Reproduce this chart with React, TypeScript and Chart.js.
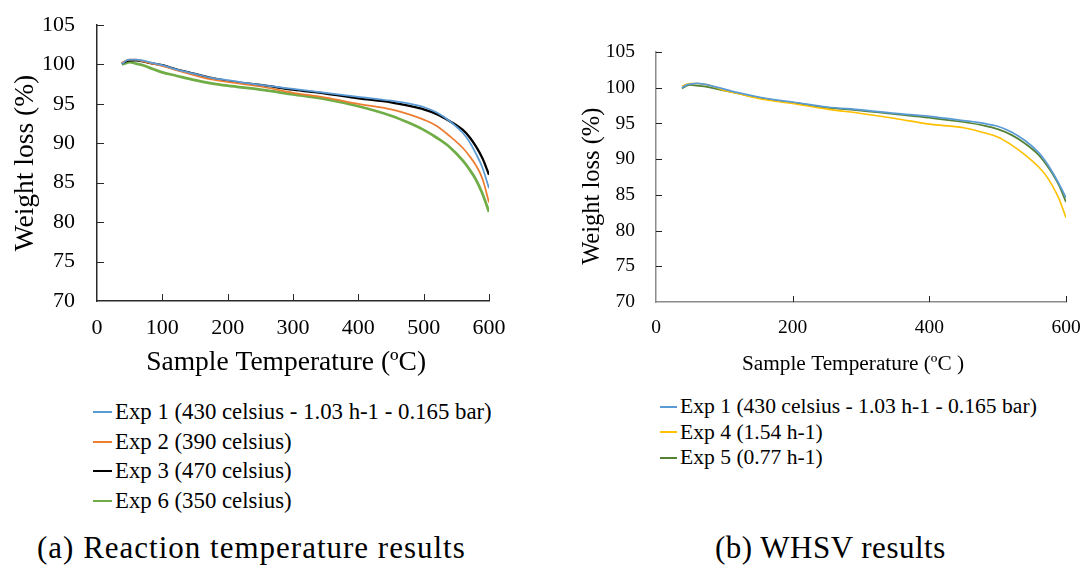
import React, { useEffect, useRef } from "react";
import { Chart, registerables } from "chart.js";

Chart.register(...registerables);

const SERIF = "Liberation Serif";

// Sample temperatures (ºC) shared by all curves
const temps = [38, 45, 50, 60, 70, 80, 100, 120, 150, 175, 200, 250, 300, 350, 400, 450, 480, 500, 520, 540, 560, 570, 580, 590, 600];

// (a) Reaction temperature results
const exp1A = [100.0, 100.5, 100.6, 100.6, 100.5, 100.3, 99.9, 99.4, 98.8, 98.3, 98.0, 97.4, 96.9, 96.4, 95.9, 95.4, 95.0, 94.6, 93.9, 92.8, 91.3, 90.2, 88.7, 86.9, 84.3];
const exp2A = [100.2, 100.5, 100.6, 100.6, 100.4, 100.2, 99.8, 99.3, 98.6, 98.1, 97.8, 97.2, 96.4, 95.8, 95.0, 94.3, 93.6, 93.0, 92.2, 90.9, 89.4, 88.4, 87.2, 85.5, 82.5];
const exp3A = [100.1, 100.4, 100.5, 100.5, 100.4, 100.2, 99.9, 99.4, 98.8, 98.3, 97.9, 97.4, 96.8, 96.3, 95.7, 95.2, 94.7, 94.3, 93.7, 92.8, 91.7, 90.8, 89.6, 88.1, 86.0];
const exp6A = [100.0, 100.2, 100.3, 100.1, 99.9, 99.6, 99.0, 98.6, 98.0, 97.6, 97.3, 96.8, 96.2, 95.6, 94.7, 93.5, 92.5, 91.7, 90.7, 89.5, 87.8, 86.7, 85.4, 83.6, 81.3];

// (b) WHSV results
const exp1B = [100.0, 100.4, 100.5, 100.6, 100.5, 100.3, 99.8, 99.3, 98.7, 98.3, 98.0, 97.3, 96.9, 96.4, 96.0, 95.4, 95.0, 94.6, 93.8, 92.6, 90.9, 89.7, 88.2, 86.5, 84.6];
const exp4B = [100.2, 100.5, 100.6, 100.6, 100.5, 100.3, 99.6, 99.2, 98.5, 98.1, 97.8, 97.0, 96.4, 95.7, 94.9, 94.4, 93.7, 93.1, 92.0, 90.6, 88.9, 87.8, 86.3, 84.4, 81.8];
const exp5B = [99.9, 100.3, 100.4, 100.3, 100.2, 100.0, 99.6, 99.2, 98.6, 98.2, 97.9, 97.2, 96.8, 96.3, 95.8, 95.2, 94.7, 94.2, 93.4, 92.2, 90.6, 89.4, 88.0, 86.3, 84.0];

const labelsA = ["Exp 1 (430 celsius - 1.03 h-1 - 0.165 bar)", "Exp 2 (390 celsius)", "Exp 3 (470 celsius)", "Exp 6 (350 celsius)"];
const colorsA = ["#5B9BD5", "#ED7D31", "#000000", "#70AD47"];
const widthsA = [1.75, 1.75, 2.25, 2.75];
const labelsB = ["Exp 1 (430 celsius - 1.03 h-1 - 0.165 bar)", "Exp 4 (1.54 h-1)", "Exp 5 (0.77 h-1)"];
const colorsB = ["#5B9BD5", "#FFC000", "#548235"];
const widthsB = [1.75, 1.6, 1.75];

const yTicksVals = [70, 75, 80, 85, 90, 95, 100, 105];

const toPts = (ys: number[]) => temps.map((t, i) => ({ x: t, y: ys[i] }));

const insideTicks = {
  id: "insideTicks",
  afterDatasetsDraw(chart: any, _args: any, opts: any) {
    const { ctx, chartArea } = chart;
    const xs = chart.scales.x;
    const ys = chart.scales.y;
    ctx.save();
    ctx.strokeStyle = opts.color || "#000";
    ctx.lineWidth = 1;
    const len = opts.len || 7;
    xs.ticks.forEach((t: any) => {
      if (t.value === xs.min) return;
      const px = Math.round(xs.getPixelForValue(t.value)) + 0.5;
      ctx.beginPath();
      ctx.moveTo(px, chartArea.bottom);
      ctx.lineTo(px, chartArea.bottom - len);
      ctx.stroke();
    });
    ys.ticks.forEach((t: any) => {
      if (t.value === ys.min) return;
      const py = Math.round(ys.getPixelForValue(t.value)) + 0.5;
      ctx.beginPath();
      ctx.moveTo(chartArea.left, py);
      ctx.lineTo(chartArea.left + len, py);
      ctx.stroke();
    });
    ctx.restore();
  },
};

type Cfg = {
  series: number[][];
  labels: string[];
  colors: string[];
  widths: number[];
  xStep: number;
  tickFont: number;
  yTitleFont: number;
  xTitleFont: number;
  xTitle: string;
  yTitle: string;
  yWidth: number;
  xHeight: number;
  padTop: number;
  padRight: number;
  yTitlePad: number;
  xTitlePadBottom: number;
  xTickPad: number;
  yTickPad: number;
  axisColor: string;
  tickColor: string;
  tickLen: number;
};

function TGAChart({ cfg, width, height }: { cfg: Cfg; width: number; height: number }) {
  const ref = useRef<HTMLCanvasElement | null>(null);
  useEffect(() => {
    if (!ref.current) return;
    const chart = new Chart(ref.current, {
      type: "line",
      data: {
        datasets: cfg.series.map((s, i) => ({
          label: cfg.labels[i],
          data: toPts(s),
          borderColor: cfg.colors[i],
          backgroundColor: cfg.colors[i],
          borderWidth: cfg.widths[i],
          pointRadius: 0,
          cubicInterpolationMode: "monotone" as const,
          fill: false,
        })),
      },
      options: {
        animation: false,
        responsive: false,
        maintainAspectRatio: false,
        layout: { padding: { top: cfg.padTop, right: cfg.padRight, left: 0, bottom: 0 } },
        plugins: {
          legend: { display: false },
          tooltip: { enabled: false },
          insideTicks: { color: cfg.tickColor, len: cfg.tickLen },
        } as any,
        scales: {
          x: {
            type: "linear",
            min: 0,
            max: 600,
            ticks: {
              stepSize: cfg.xStep,
              color: "#000",
              font: { family: SERIF, size: cfg.tickFont },
              padding: cfg.xTickPad,
              maxRotation: 0,
            },
            grid: { display: false, drawTicks: false },
            border: { display: true, color: cfg.axisColor, width: 1.5 },
            title: {
              display: true,
              text: cfg.xTitle,
              color: "#000",
              font: { family: SERIF, size: cfg.xTitleFont },
              padding: { top: 0, bottom: cfg.xTitlePadBottom },
            },
            afterFit: (s: any) => {
              s.height = cfg.xHeight;
              s.paddingLeft = 0;
              s.paddingRight = 0;
              s.paddingTop = 0;
              s.paddingBottom = 0;
            },
          },
          y: {
            min: 70,
            max: 105,
            afterBuildTicks: (s: any) => {
              s.ticks = yTicksVals.map((v) => ({ value: v }));
            },
            ticks: {
              color: "#000",
              font: { family: SERIF, size: cfg.tickFont },
              padding: cfg.yTickPad,
            },
            grid: { display: false, drawTicks: false },
            border: { display: true, color: cfg.axisColor, width: 1.5 },
            title: {
              display: true,
              text: cfg.yTitle,
              color: "#000",
              font: { family: SERIF, size: cfg.yTitleFont },
              padding: { top: cfg.yTitlePad, bottom: 0 },
            },
            afterFit: (s: any) => {
              s.width = cfg.yWidth;
              s.paddingLeft = 0;
              s.paddingRight = 0;
              s.paddingTop = 0;
              s.paddingBottom = 0;
            },
          },
        },
      },
      plugins: [insideTicks],
    });
    return () => chart.destroy();
  }, [cfg]);
  return <canvas ref={ref} width={width} height={height} style={{ width, height, display: "block" }} />;
}

const cfgA: Cfg = {
  series: [exp1A, exp2A, exp3A, exp6A],
  labels: labelsA,
  colors: colorsA,
  widths: widthsA,
  xStep: 100,
  tickFont: 22,
  yTitleFont: 27.5,
  xTitleFont: 27.5,
  xTitle: "Sample Temperature (ºC)  ",
  yTitle: "Weight loss (%)",
  yWidth: 97,
  xHeight: 89,
  padTop: 25,
  padRight: 41,
  yTitlePad: 9,
  xTitlePadBottom: 11,
  xTickPad: 14,
  yTickPad: 22,
  axisColor: "#2a2a2a",
  tickColor: "#2a2a2a",
  tickLen: 7,
};

const cfgB: Cfg = {
  series: [exp1B, exp4B, exp5B],
  labels: labelsB,
  colors: colorsB,
  widths: widthsB,
  xStep: 200,
  tickFont: 19.5,
  yTitleFont: 24.5,
  xTitleFont: 21.3,
  xTitle: "Sample Temperature (ºC )   ",
  yTitle: "Weight loss (%)   ",
  yWidth: 96,
  xHeight: 88,
  padTop: 52,
  padRight: 18,
  yTitlePad: 18,
  xTitlePadBottom: 13,
  xTickPad: 14,
  yTickPad: 21,
  axisColor: "#8c8c8c",
  tickColor: "#222222",
  tickLen: 6,
};

function Legend({ labels, colors, left, top, rowH, font, lineW }: any) {
  return (
    <div style={{ position: "absolute", left, top, fontFamily: SERIF, fontSize: font, color: "#000" }}>
      {labels.map((l: string, i: number) => (
        <div key={i} style={{ height: rowH, display: "flex", alignItems: "center", whiteSpace: "nowrap" }}>
          <span style={{ display: "inline-block", width: lineW, height: 2, background: colors[i], marginRight: 3 }} />
          <span>{l}</span>
        </div>
      ))}
    </div>
  );
}

export default function App() {
  useEffect(() => {
    document.body.style.margin = "0";
  }, []);
  return (
    <div style={{ position: "relative", width: 1084, height: 567, background: "#fff", overflow: "hidden", fontFamily: SERIF }}>
      <div style={{ position: "absolute", left: 0, top: 0 }}>
        <TGAChart cfg={cfgA} width={530} height={390} />
      </div>
      <div style={{ position: "absolute", left: 560, top: 0 }}>
        <TGAChart cfg={cfgB} width={524} height={390} />
      </div>
      <Legend labels={labelsA} colors={colorsA} left={93} top={397} rowH={29.7} font={22.8} lineW={19} />
      <Legend labels={labelsB} colors={colorsB} left={660} top={394} rowH={25.5} font={21.6} lineW={17} />
      <div style={{ position: "absolute", left: 37, top: 529, fontFamily: SERIF, fontSize: 31, letterSpacing: 1, color: "#000", whiteSpace: "nowrap", lineHeight: "38px" }}>
        (a) Reaction temperature results
      </div>
      <div style={{ position: "absolute", left: 715, top: 529, fontFamily: SERIF, fontSize: 31, letterSpacing: 0.5, color: "#000", whiteSpace: "nowrap", lineHeight: "38px" }}>
        (b) WHSV results
      </div>
    </div>
  );
}
